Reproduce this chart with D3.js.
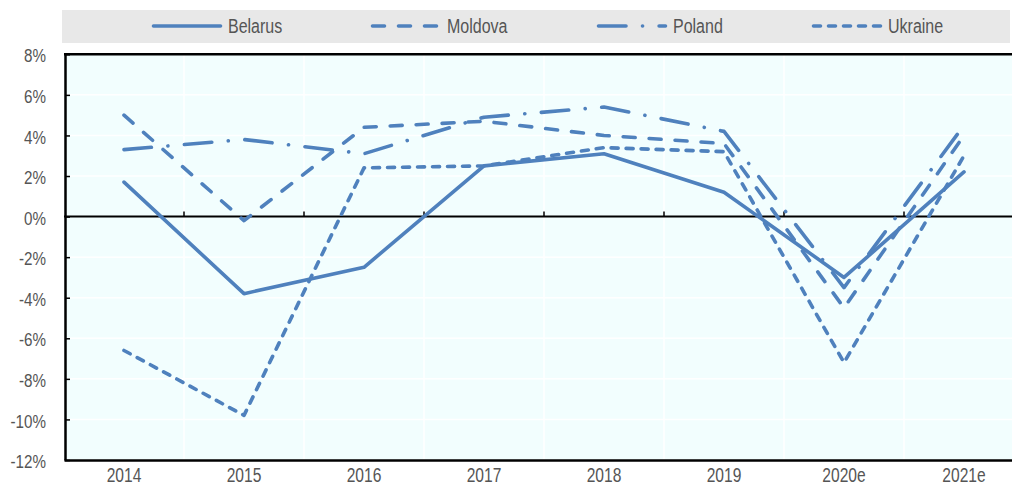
<!DOCTYPE html>
<html>
<head>
<meta charset="utf-8">
<script src="https://cdn.jsdelivr.net/npm/d3@7"></script>
<style>
  html, body { margin: 0; padding: 0; background: #ffffff; }
  svg { display: block; }
  text { font-family: "Liberation Sans Narrow", "Liberation Sans", Arial, sans-serif; fill: #555555; }
</style>
</head>
<body>
<svg id="chart" width="1012" height="485"></svg>
<script>
// ---- data ----
const categories = ["2014", "2015", "2016", "2017", "2018", "2019", "2020e", "2021e"];
const seriesNames = ["Belarus", "Moldova", "Poland", "Ukraine"];
const belarus = [1.7, -3.8, -2.5, 2.5, 3.1, 1.2, -3.0, 2.2];
const moldova = [5.0, -0.2, 4.4, 4.7, 4.0, 3.6, -4.5, 4.0];
const poland  = [3.3, 3.8, 3.1, 4.9, 5.4, 4.2, -3.5, 4.5];
const ukraine = [-6.6, -9.8, 2.4, 2.5, 3.4, 3.2, -7.2, 3.0];
const yTicks = [-12, -10, -8, -6, -4, -2, 0, 2, 4, 6, 8];
const yTickLabels = ["-12%", "-10%", "-8%", "-6%", "-4%", "-2%", "0%", "2%", "4%", "6%", "8%"];

// ---- styling ----
const color = "#4f81bd";
const dashes = ["none", "12,14", "27.5,16.5,0.1,16.5", "7,8"];
const legendX = [152, 371, 597, 812];
const squeeze = 0.8; // condensed look

const svg = d3.select("#chart");
const pLeft = 64, pRight = 1024, pTop = 54.3, pBottom = 460;

const x = d3.scaleBand().domain(categories).range([pLeft, pRight]);
const y = d3.scaleLinear().domain([-12, 8]).range([pBottom, pTop]);

// legend background
svg.append("rect").attr("x", 62).attr("y", 10).attr("width", 948).attr("height", 33).attr("fill", "#e8e8e8");

// plot background
svg.append("rect").attr("x", pLeft).attr("y", pTop).attr("width", pRight - pLeft).attr("height", pBottom - pTop)
  .attr("fill", "#f2fefe");

// gridlines
const grid = svg.append("g");
grid.selectAll("line.h").data(yTicks).join("line").attr("class", "h")
  .attr("x1", pLeft).attr("x2", pRight)
  .attr("y1", d => y(d)).attr("y2", d => y(d))
  .attr("stroke", "#ffffff").attr("stroke-width", 1.5);
grid.selectAll("line.v").data(categories.slice(0, -1)).join("line").attr("class", "v")
  .attr("x1", d => x(d) + x.bandwidth()).attr("x2", d => x(d) + x.bandwidth())
  .attr("y1", pTop).attr("y2", pBottom)
  .attr("stroke", "#ffffff").attr("stroke-width", 1.5);

// zero line with ticks at category boundaries
svg.append("line").attr("x1", pLeft).attr("x2", pRight).attr("y1", y(0)).attr("y2", y(0))
  .attr("stroke", "#000").attr("stroke-width", 2);
svg.append("g").selectAll("line").data(categories.slice(0, -1)).join("line")
  .attr("x1", d => x(d) + x.bandwidth()).attr("x2", d => x(d) + x.bandwidth())
  .attr("y1", y(0)).attr("y2", y(0) - 5)
  .attr("stroke", "#000").attr("stroke-width", 1.5);

// lines
const seriesData = [belarus, moldova, poland, ukraine];
const line = d3.line().x((d, i) => x(categories[i]) + x.bandwidth() / 2).y(d => y(d));
svg.append("g").selectAll("path").data(seriesData).join("path")
  .attr("d", d => line(d))
  .attr("fill", "none")
  .attr("stroke", color)
  .attr("stroke-width", 3.6)
  .attr("stroke-linecap", "round")
  .attr("stroke-linejoin", "round")
  .attr("stroke-dasharray", (d, i) => dashes[i]);

// y axis
const yAxis = d3.axisLeft(y).tickValues(yTicks).tickFormat((d, i) => yTickLabels[i])
  .tickSizeInner(-5).tickSizeOuter(0).tickPadding(19);
const gy = svg.append("g").attr("transform", `translate(${pLeft + 1},0)`).call(yAxis);
gy.select(".domain").attr("stroke", "#000").attr("stroke-width", 2.5);
gy.selectAll(".tick line").attr("stroke", "#000").attr("stroke-width", 1.5);
gy.selectAll(".tick text").attr("font-size", 19).attr("dy", "0.4em")
  .attr("x", -19 / squeeze).attr("transform", `scale(${squeeze},1)`);

// x axis
const xAxis = d3.axisBottom(x).tickSize(0).tickPadding(8);
const gx = svg.append("g").attr("transform", `translate(0,${pBottom})`).call(xAxis);
gx.select(".domain").attr("stroke", "#000").attr("stroke-width", 2.5);
gx.selectAll(".tick text").attr("font-size", 19.5).attr("transform", `scale(${squeeze},1)`);

// top border
svg.append("line").attr("x1", pLeft).attr("x2", pRight).attr("y1", pTop).attr("y2", pTop)
  .attr("stroke", "#000").attr("stroke-width", 2.5);

// legend
const lg = svg.append("g");
seriesNames.forEach((name, i) => {
  lg.append("line").attr("x1", legendX[i] + 1.5).attr("x2", legendX[i] + 68.5)
    .attr("y1", 26).attr("y2", 26)
    .attr("stroke", color).attr("stroke-width", 3.6).attr("stroke-linecap", "round")
    .attr("stroke-dasharray", dashes[i]);
  lg.append("text").attr("transform", `translate(${legendX[i] + 76},33) scale(${squeeze},1)`)
    .attr("font-size", 20).text(name);
});
</script>
</body>
</html>
